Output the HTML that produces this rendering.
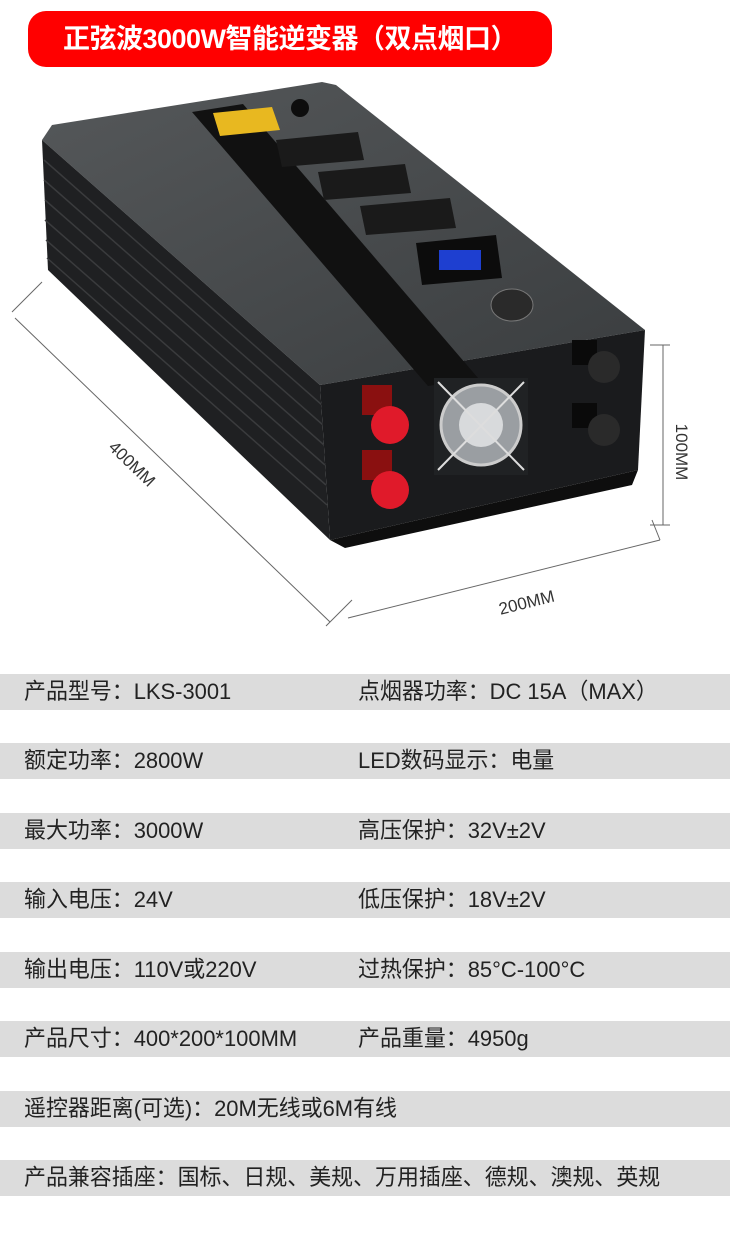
<!DOCTYPE html>
<html><head><meta charset="utf-8"><style>
body{margin:0;width:730px;height:1239px;background:#fff;position:relative;overflow:hidden;font-family:"Liberation Sans","Noto Sans CJK SC",sans-serif}
.t{position:absolute;left:28px;top:11px;width:524px;height:56px;background:#f00;border-radius:18px;color:#fff;font-size:27px;font-weight:bold;line-height:56px;text-align:center;letter-spacing:-0.5px}
.r{position:absolute;left:0;width:730px;height:36px;background:#dcdcdc;font-size:22.5px;color:#222;line-height:36px}
.r span{position:absolute;transform:scaleX(0.975);transform-origin:left;white-space:nowrap}
.a{left:24px}.b{left:358px}
</style></head><body>
<div class="t">正弦波3000W智能逆变器（双点烟口）</div>
<svg width="730" height="650" style="position:absolute;left:0;top:0">
<defs><linearGradient id="g" x1="0" y1="0" x2="1" y2="1"><stop offset="0" stop-color="#55585a"/><stop offset="1" stop-color="#3a3d3f"/></linearGradient></defs>
<polygon points="42,140 52,125 322,82 336,85 645,330 320,385" fill="url(#g)"/>
<polygon points="42,140 320,385 330,540 48,270" fill="#1f2022"/>
<g stroke="#3a3b3d" stroke-width="1.5">
<line x1="44" y1="160" x2="322" y2="405"/><line x1="44" y1="180" x2="323" y2="425"/><line x1="45" y1="200" x2="324" y2="445"/><line x1="45" y1="220" x2="325" y2="465"/><line x1="46" y1="240" x2="326" y2="485"/><line x1="47" y1="258" x2="327" y2="505"/></g>
<polygon points="320,385 645,330 638,470 330,540" fill="#1a1b1d"/>
<polygon points="330,540 638,470 632,485 345,548" fill="#0e0e0e"/>
<polygon points="192,112 243,104 478,378 428,386" fill="#111"/>
<polygon points="213,113 272,107 280,130 220,136" fill="#e8b820"/>
<circle cx="300" cy="108" r="9" fill="#0d0d0d"/>
<polygon points="276,140 358,132 364,160 282,167" fill="#1a1a1a"/>
<polygon points="318,172 405,164 411,193 324,200" fill="#1a1a1a"/>
<polygon points="360,206 450,198 456,228 366,235" fill="#1a1a1a"/>
<polygon points="416,243 496,235 502,278 422,285" fill="#0c0c0c"/>
<rect x="439" y="250" width="42" height="20" fill="#1e3fd0"/>
<ellipse cx="512" cy="305" rx="21" ry="16" fill="#2a2a2a" stroke="#777"/>
<rect x="434" y="378" width="94" height="97" fill="#202224"/>
<circle cx="481" cy="425" r="40" fill="#9a9ea2" stroke="#ccc" stroke-width="3"/>
<circle cx="481" cy="425" r="22" fill="#d8dadc"/>
<line x1="438" y1="382" x2="524" y2="470" stroke="#ddd" stroke-width="2"/><line x1="524" y1="382" x2="438" y2="470" stroke="#ddd" stroke-width="2"/>
<rect x="362" y="385" width="30" height="30" fill="#8a1010"/><circle cx="390" cy="425" r="19" fill="#e01a2a"/>
<rect x="362" y="450" width="30" height="30" fill="#8a1010"/><circle cx="390" cy="490" r="19" fill="#e01a2a"/>
<rect x="572" y="340" width="25" height="25" fill="#0a0a0a"/><circle cx="604" cy="367" r="16" fill="#2a2a2a"/>
<rect x="572" y="403" width="25" height="25" fill="#0a0a0a"/><circle cx="604" cy="430" r="16" fill="#2a2a2a"/>
<g stroke="#666" stroke-width="1" fill="none">
<line x1="15" y1="318" x2="330" y2="622"/><line x1="12" y1="312" x2="42" y2="282"/><line x1="326" y1="626" x2="352" y2="600"/>
<line x1="348" y1="618" x2="660" y2="540"/><line x1="660" y1="540" x2="652" y2="520"/>
<line x1="663" y1="345" x2="663" y2="525"/><line x1="650" y1="345" x2="670" y2="345"/><line x1="650" y1="525" x2="670" y2="525"/>
</g>
<text x="128" y="468" font-size="17" fill="#333" transform="rotate(44 128 468)" text-anchor="middle" font-family="Liberation Sans">400MM</text>
<text x="528" y="608" font-size="17" fill="#333" transform="rotate(-14 528 608)" text-anchor="middle" font-family="Liberation Sans">200MM</text>
<text x="676" y="452" font-size="17" fill="#333" transform="rotate(90 676 452)" text-anchor="middle" font-family="Liberation Sans">100MM</text>
</svg>
<div class="r" style="top:674px"><span class="a">产品型号：LKS-3001</span><span class="b">点烟器功率：DC 15A（MAX）</span></div>
<div class="r" style="top:743px"><span class="a">额定功率：2800W</span><span class="b">LED数码显示：电量</span></div>
<div class="r" style="top:813px"><span class="a">最大功率：3000W</span><span class="b">高压保护：32V±2V</span></div>
<div class="r" style="top:882px"><span class="a">输入电压：24V</span><span class="b">低压保护：18V±2V</span></div>
<div class="r" style="top:952px"><span class="a">输出电压：110V或220V</span><span class="b">过热保护：85°C-100°C</span></div>
<div class="r" style="top:1021px"><span class="a">产品尺寸：400*200*100MM</span><span class="b">产品重量：4950g</span></div>
<div class="r" style="top:1091px"><span class="a">遥控器距离(可选)：20M无线或6M有线</span></div>
<div class="r" style="top:1160px"><span class="a">产品兼容插座：国标、日规、美规、万用插座、德规、澳规、英规</span></div>
</body></html>
